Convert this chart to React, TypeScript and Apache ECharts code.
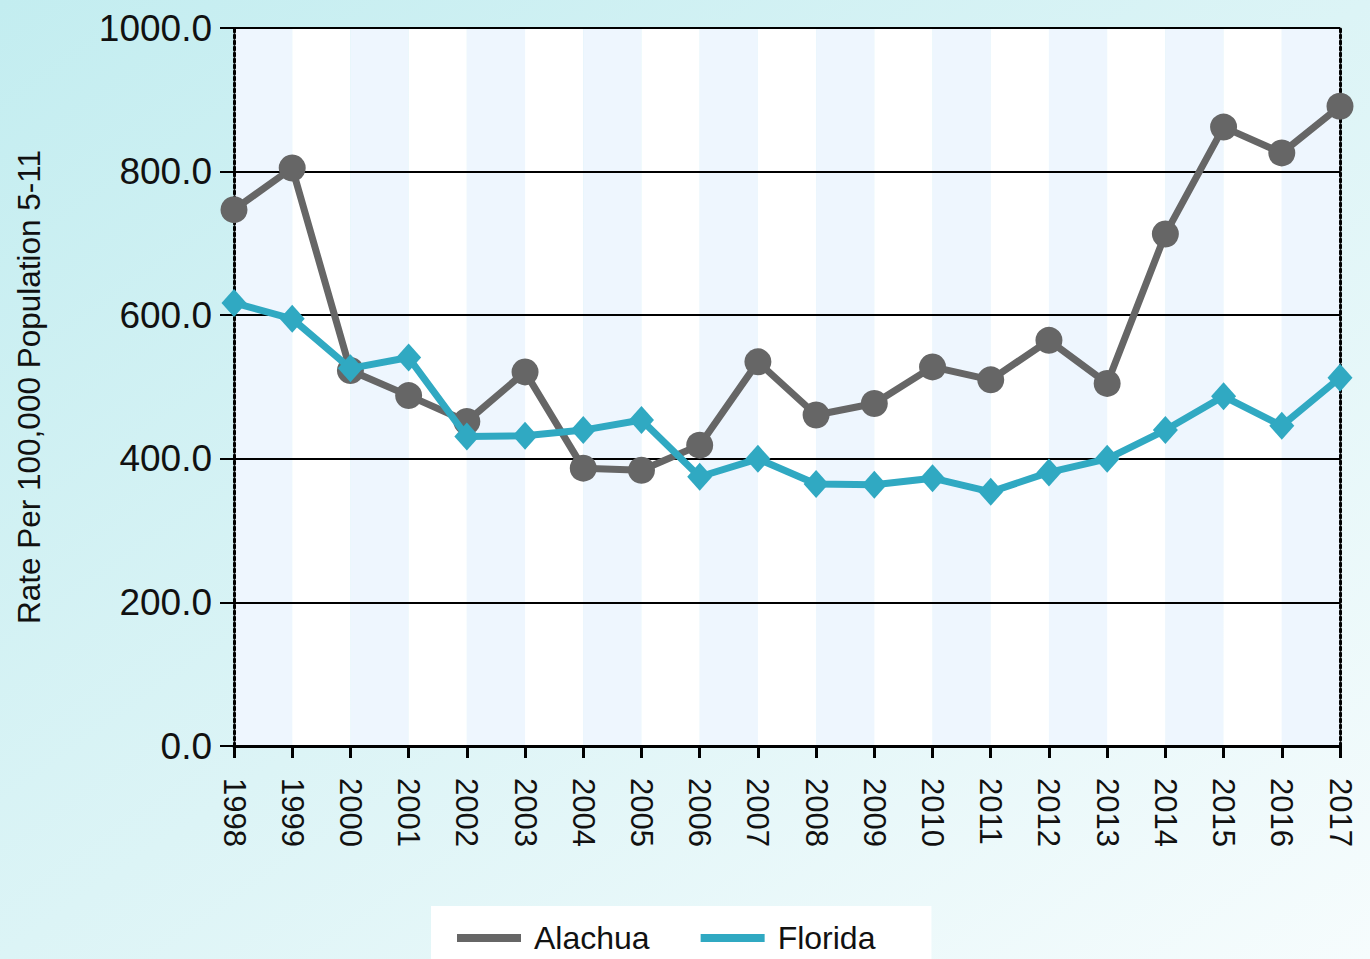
import React, { useEffect, useRef } from "react";
import * as echarts from "echarts";

const years = ["1998","1999","2000","2001","2002","2003","2004","2005","2006","2007","2008","2009","2010","2011","2012","2013","2014","2015","2016","2017"];
const alachua = [747, 805, 523, 488, 452, 521, 387, 384, 419, 535, 461, 477, 528, 510, 565, 505, 713, 862, 826, 891];
const florida = [617, 595, 526, 541, 431, 432, 440, 454, 375, 400, 365, 364, 373, 354, 381, 400, 440, 487, 446, 513];
const yTicks = { min: 0, max: 1000, interval: 200 };
const yTitle = "Rate Per 100,000 Population 5-11";

const FONT = "'Liberation Sans', Arial, sans-serif";

export default function App() {
  const ref = useRef<HTMLDivElement>(null);
  useEffect(() => {
    if (!ref.current) return;
    const chart = echarts.init(ref.current, null, { renderer: "svg" });
    chart.setOption({
      animation: false,
      backgroundColor: new echarts.graphic.LinearGradient(0, 0, 1, 1, [
        { offset: 0, color: "#c3edf0" },
        { offset: 0.5, color: "#dcf4f6" },
        { offset: 1, color: "#f6fcfd" },
      ]),
      textStyle: { fontFamily: FONT },
      grid: { left: 234, right: 30, top: 28, bottom: 213, containLabel: false },
      legend: {
        data: ["Alachua", "Florida"],
        left: 431,
        top: 906,
        backgroundColor: "#ffffff",
        padding: [16, 56, 30, 26],
        itemGap: 51,
        itemWidth: 64,
        itemHeight: 8,
        icon: "rect",
        textStyle: { fontSize: 32, color: "#111", fontFamily: FONT, padding: [0, 0, 0, 8] },
      },
      xAxis: {
        type: "category",
        data: years,
        boundaryGap: false,
        z: 0,
        axisLine: { show: true, lineStyle: { color: "#000", width: 3 } },
        axisTick: { show: true, length: 12, lineStyle: { color: "#000", width: 3 } },
        axisLabel: { rotate: -90, margin: 32, fontSize: 31, color: "#111", fontFamily: FONT },
        splitLine: { show: false },
        splitArea: { show: true, areaStyle: { color: ["#eef6fe", "#ffffff"] } },
      },
      yAxis: [
        {
          type: "value",
          z: 1,
          min: yTicks.min,
          max: yTicks.max,
          interval: yTicks.interval,
          name: yTitle,
          nameLocation: "middle",
          nameGap: 189,
          nameRotate: 90,
          nameTextStyle: { fontSize: 31.5, color: "#111", fontFamily: FONT },
          axisLine: { show: true, lineStyle: { color: "#000", width: 3, type: [3, 3] } },
          axisTick: { show: true, length: 14, lineStyle: { color: "#000", width: 2 } },
          axisLabel: {
            margin: 22,
            fontSize: 37,
            color: "#111",
            fontFamily: FONT,
            formatter: (v: number) => v.toFixed(1),
          },
          splitLine: { show: true, lineStyle: { color: "#000", width: 2 } },
        },
        {
          type: "value",
          z: 1,
          position: "right",
          min: yTicks.min,
          max: yTicks.max,
          interval: yTicks.interval,
          axisLine: { show: true, lineStyle: { color: "#000", width: 3, type: [3, 3] } },
          axisTick: { show: false },
          axisLabel: { show: false },
          splitLine: { show: false },
        },
      ],
      series: [
        {
          name: "Alachua",
          type: "line",
          data: alachua,
          symbol: "circle",
          symbolSize: 27,
          lineStyle: { color: "#666666", width: 7 },
          itemStyle: { color: "#666666" },
          z: 3,
        },
        {
          name: "Florida",
          type: "line",
          data: florida,
          symbol: "diamond",
          symbolSize: [25, 28],
          lineStyle: { color: "#30a9c2", width: 7 },
          itemStyle: { color: "#30a9c2" },
          z: 4,
        },
      ],
    });
    return () => chart.dispose();
  }, []);
  return <div ref={ref} style={{ position: "fixed", left: 0, top: 0, width: 1370, height: 959 }} />;
}
